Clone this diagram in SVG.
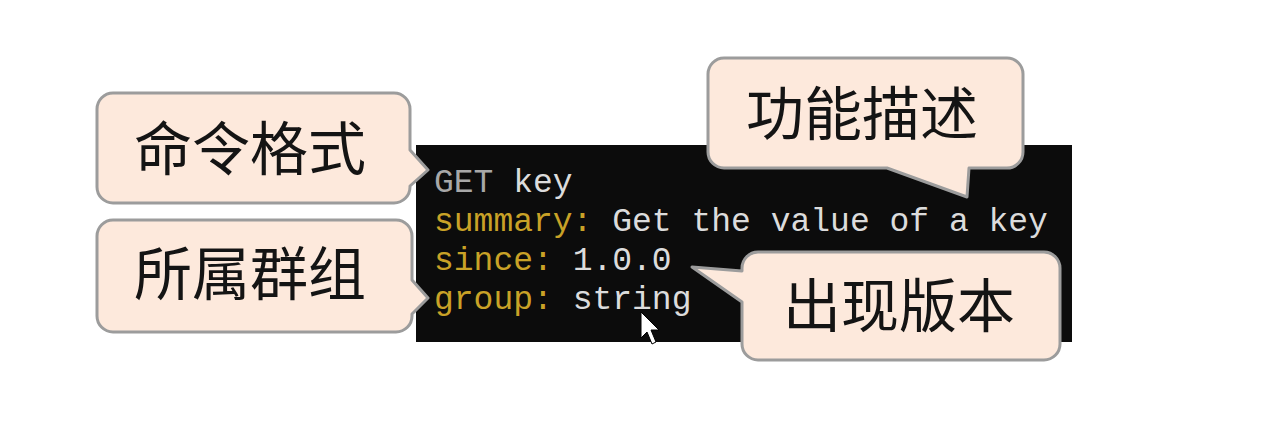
<svg xmlns="http://www.w3.org/2000/svg" width="1265" height="448" viewBox="0 0 1265 448">
<style>
.bubble{fill:#fde9dc;stroke:#9c9c9c;stroke-width:3;stroke-linejoin:round}
.lbl{font-family:"Noto Sans CJK SC","Noto Sans",sans-serif;font-size:58px;fill:#141414;text-anchor:middle}
.code{font-family:"Liberation Mono","DejaVu Sans Mono",monospace;font-size:33px}
.k{fill:#c9a227}
.v{fill:#dcdcdc}
.g{fill:#a8a8a8}
</style>
<rect width="1265" height="448" fill="#ffffff"/>
<g id="terminal">
<rect x="416" y="145" width="656" height="197" fill="#0c0c0c"/>
<text class="code" x="434" y="192"><tspan class="g">GET</tspan><tspan class="v"> key</tspan></text>
<text class="code" x="434" y="231"><tspan class="k">summary:</tspan><tspan class="v"> Get the value of a key</tspan></text>
<text class="code" x="434" y="270"><tspan class="k">since:</tspan><tspan class="v"> 1.0.0</tspan></text>
<text class="code" x="434" y="309"><tspan class="k">group:</tspan><tspan class="v"> string</tspan></text>
<path d="M641,312 L641,338 L647,332 L652,344 L656,342 L651,330 L659,330 Z" fill="#ffffff" stroke="#000000" stroke-width="1"/>
</g>
<g id="connectors"></g>
<g id="callout-format">
<path class="bubble" d="M113,93 H394 A16,16 0 0 1 410,109 V150 L428,170 L410,186 V187 A16,16 0 0 1 394,203 H113 A16,16 0 0 1 97,187 V109 A16,16 0 0 1 113,93 Z"/>
<text class="lbl" x="250" y="170">命令格式</text>
</g>
<g id="callout-group">
<path class="bubble" d="M113,220 H396 A16,16 0 0 1 412,236 V280 L428,298 L412,314 V316 A16,16 0 0 1 396,332 H113 A16,16 0 0 1 97,316 V236 A16,16 0 0 1 113,220 Z"/>
<text class="lbl" x="250" y="295">所属群组</text>
</g>
<g id="callout-summary">
<path class="bubble" d="M724,58 H1007 A16,16 0 0 1 1023,74 V152 A16,16 0 0 1 1007,168 H969 L967,197 L887,168 H724 A16,16 0 0 1 708,152 V74 A16,16 0 0 1 724,58 Z"/>
<text class="lbl" x="862" y="135">功能描述</text>
</g>
<g id="callout-since">
<path class="bubble" d="M758,252 H1044 A16,16 0 0 1 1060,268 V344 A16,16 0 0 1 1044,360 H758 A16,16 0 0 1 742,344 V302 L692,267 L742,271 V268 A16,16 0 0 1 758,252 Z"/>
<text class="lbl" x="899" y="327">出现版本</text>
</g>
</svg>
